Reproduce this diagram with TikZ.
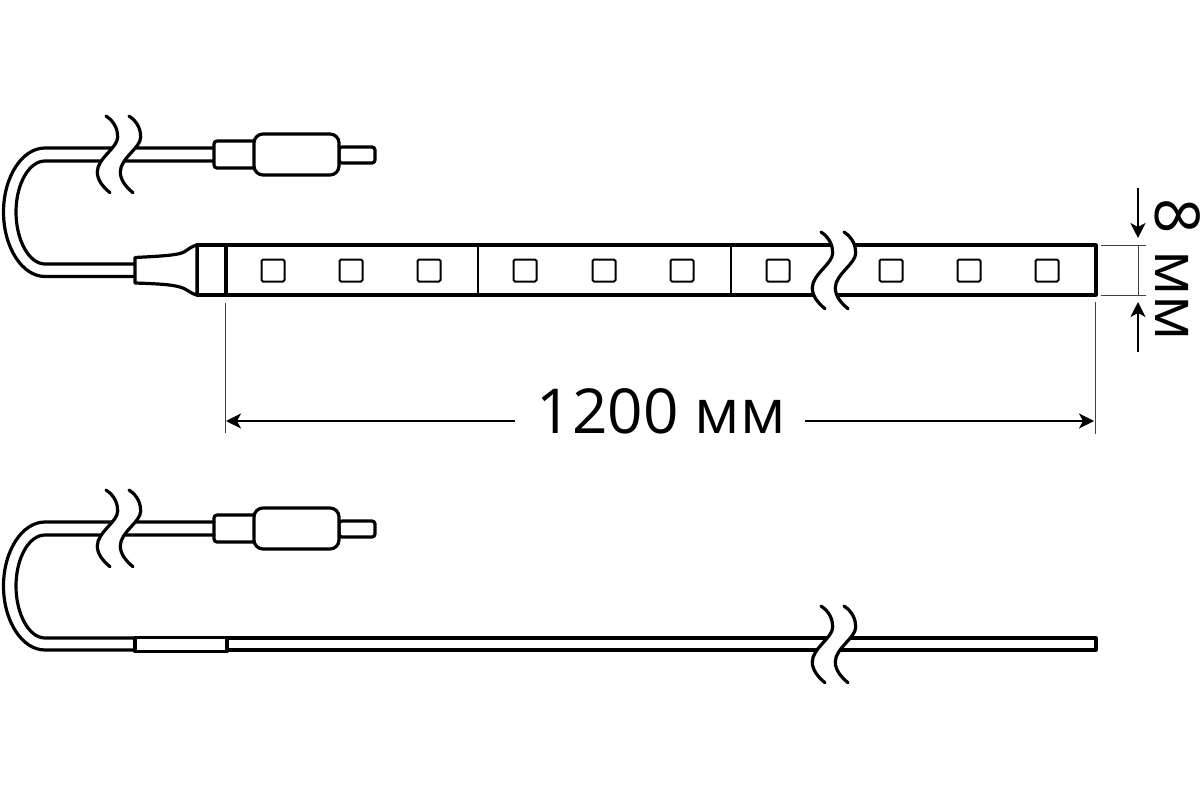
\documentclass[tikz,border=0pt]{standalone}
\usepackage{fontspec}
\setmainfont{Open Sans}
\usetikzlibrary{arrows.meta}
\tikzset{
  x=1pt,y=-1pt,
  heavy/.style={draw=black,line width=3.2pt,line join=round,line cap=round},
  medium/.style={draw=black,line width=2.2pt,line join=round},
  thinline/.style={draw=black!75,line width=1pt},
  dimline/.style={draw=black,line width=1.8pt,-{Stealth[length=15pt,width=15pt,inset=4pt]}},
  ledbox/.style={draw=black,line width=2pt,rounded corners=1.5pt,fill=white},
  label/.style={font=\fontsize{62}{62}\selectfont,inner sep=0pt,anchor=base},
  plug/.pic={
    \draw[heavy,fill=white,rounded corners=3pt] (339,147) rectangle (375,163);
    \draw[heavy,fill=white,rounded corners=3pt] (214,141) rectangle (258,168);
    \draw[heavy,fill=white,rounded corners=9pt] (254,134) rectangle (339,175);
  },
  wave/.pic={
    \fill[white] (0,0) .. controls (9,6) and (11.7,14) .. (11.7,21) .. controls (11.7,32) and (-8.7,42) .. (-8.7,56) .. controls (-8.7,64) and (-3,71) .. (4,76.7)
      -- (27,76.7) .. controls (20,71) and (14.3,64) .. (14.3,56) .. controls (14.3,42) and (34.7,32) .. (34.7,21) .. controls (34.7,14) and (32,6) .. (23,0) -- cycle;
    \draw[heavy] (0,0) .. controls (9,6) and (11.7,14) .. (11.7,21) .. controls (11.7,32) and (-8.7,42) .. (-8.7,56) .. controls (-8.7,64) and (-3,71) .. (4,76.7);
    \draw[heavy] (23,0) .. controls (32,6) and (34.7,14) .. (34.7,21) .. controls (34.7,32) and (14.3,42) .. (14.3,56) .. controls (14.3,64) and (20,71) .. (27,76.7);
  },
  cablebend/.pic={
    \draw[heavy] (214,148) -- (45,148) .. controls (22,148) and (3.5,177) .. (3.5,212) .. controls (3.5,247) and (22,276.5) .. (45,276.5) -- (135,276.5);
    \draw[heavy] (214,161) -- (45,161) .. controls (29,161) and (16,184) .. (16,212) .. controls (16,240) and (29,264) .. (45,264) -- (135,264);
  }
}
\begin{document}
\begin{tikzpicture}
\useasboundingbox (0,0) rectangle (1200,800);
% upper assembly
\pic at (0,0) {cablebend};
\pic at (0,0) {plug};
\pic at (106,116) {wave};
% strip
\draw[heavy,fill=white] (197,245) rectangle (1096,295);
\draw[heavy,fill=white] (135,257.5) .. controls (165,256) and (178,255) .. (184,252) .. controls (189,249) and (192,246) .. (197,245)
  -- (197,295) .. controls (192,294) and (189,291) .. (184,288.5) .. controls (176,285) and (165,284) .. (135,283) -- cycle;
\draw[line width=3.2pt] (226,245) -- (226,295);
\draw[medium] (478,245) -- (478,295);
\draw[medium] (731,245) -- (731,295);
\foreach \cx in {273,351,429,525,604,682,778,891,969,1047}
  \draw[ledbox] (\cx-11.5,259.5) rectangle (\cx+11.5,281.5);
\pic at (821,232) {wave};
% width dimension
\draw[thinline] (225.5,303) -- (225.5,433);
\draw[thinline] (1095,302) -- (1095,434);
\draw[dimline] (515,421) -- (226,421);
\draw[dimline] (805,421) -- (1094,421);
\node[label] (lengthlabel) at (661.5,433) {1200 мм};
% height dimension
\draw[thinline] (1101,245.5) -- (1146,245.5);
\draw[thinline] (1101,295) -- (1146,295);
\draw[thinline] (1138,245.5) -- (1138,295);
\draw[dimline] (1138,188) -- (1138,238);
\draw[dimline] (1138,352) -- (1138,302);
\node[label,rotate=-90] (heightlabel) at (1155,270) {8 мм};
% lower assembly
\begin{scope}[yshift=-374pt]
\pic at (0,0) {plug};
\draw[heavy] (214,148) -- (45,148) .. controls (22,148) and (3.5,177) .. (3.5,212) .. controls (3.5,247) and (22,276) .. (45,276) -- (135,276);
\draw[heavy] (214,161) -- (45,161) .. controls (29,161) and (16,184) .. (16,212) .. controls (16,240) and (29,264) .. (45,264) -- (135,264);
\draw[heavy,fill=white] (227,264) rectangle (1096,276);
\draw[heavy,fill=white] (135,263.6) rectangle (227,277.6);
\pic at (106,116) {wave};
\pic at (821,232) {wave};
\end{scope}
\end{tikzpicture}
\end{document}
